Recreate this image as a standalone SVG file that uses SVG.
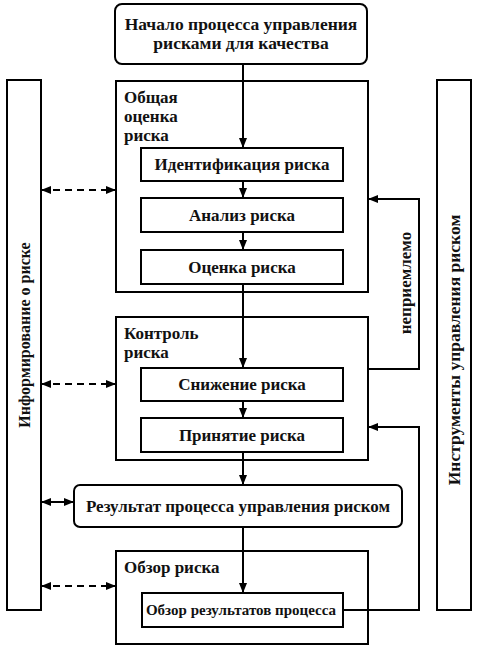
<svg xmlns="http://www.w3.org/2000/svg" width="480" height="651" viewBox="0 0 480 651">
<style>
.box{fill:#fff;stroke:#000;stroke-width:2}
.c{text-anchor:middle}
.ln{fill:none;stroke:#000;stroke-width:2}
.d{stroke-dasharray:7,5}
</style>
<defs>
<marker id="a" viewBox="0 0 10 10" refX="10" refY="5" markerWidth="10" markerHeight="10" orient="auto-start-reverse" markerUnits="userSpaceOnUse">
<path d="M0,1 L10,5 L0,9 z" fill="#000"/>
</marker>
</defs>
<rect width="480" height="651" fill="#fff"/>

<g id="info">
<rect class="box" x="7" y="80" width="34" height="530"/>
<text class="c" font-family="Liberation Serif" font-weight="bold" font-size="16" fill="#111" transform="translate(30,335) rotate(-90)">Информирование о риске</text>
</g>
<g id="tools">
<rect class="box" x="437" y="80" width="34" height="530"/>
<text class="c" font-family="Liberation Serif" font-weight="bold" font-size="17.5" fill="#111" transform="translate(460,350) rotate(-90)">Инструменты управления риском</text>
</g>

<g id="start">
<rect class="box" x="115" y="4" width="252" height="60" rx="7"/>
<text class="c" font-family="Liberation Serif" font-weight="bold" font-size="17.5" fill="#111" x="241" y="30">Начало процесса управления</text>
<text class="c" font-family="Liberation Serif" font-weight="bold" font-size="17.5" fill="#111" x="241" y="49">рисками для качества</text>
</g>

<g id="assessment">
<rect class="box" x="116" y="81" width="252" height="211"/>
<text font-family="Liberation Serif" font-weight="bold" font-size="17" fill="#111" x="124" y="103">Общая</text>
<text font-family="Liberation Serif" font-weight="bold" font-size="17" fill="#111" x="124" y="122">оценка</text>
<text font-family="Liberation Serif" font-weight="bold" font-size="17" fill="#111" x="124" y="141">риска</text>
</g>
<g id="identify">
<rect class="box" x="141" y="148" width="202" height="33"/>
<text class="c" font-family="Liberation Serif" font-weight="bold" font-size="17" fill="#111" x="242" y="170">Идентификация риска</text>
</g>
<g id="analysis">
<rect class="box" x="141" y="198" width="202" height="34"/>
<text class="c" font-family="Liberation Serif" font-weight="bold" font-size="17" fill="#111" x="242" y="221">Анализ риска</text>
</g>
<g id="evaluation">
<rect class="box" x="141" y="250" width="202" height="34"/>
<text class="c" font-family="Liberation Serif" font-weight="bold" font-size="17" fill="#111" x="242" y="273">Оценка риска</text>
</g>

<g id="control">
<rect class="box" x="116" y="317" width="252" height="143"/>
<text font-family="Liberation Serif" font-weight="bold" font-size="17" fill="#111" x="124" y="339">Контроль</text>
<text font-family="Liberation Serif" font-weight="bold" font-size="17" fill="#111" x="124" y="358">риска</text>
</g>
<g id="reduction">
<rect class="box" x="141" y="368" width="202" height="33"/>
<text class="c" font-family="Liberation Serif" font-weight="bold" font-size="17" fill="#111" x="242" y="390">Снижение риска</text>
</g>
<g id="acceptance">
<rect class="box" x="141" y="418" width="202" height="34"/>
<text class="c" font-family="Liberation Serif" font-weight="bold" font-size="17" fill="#111" x="242" y="441">Принятие риска</text>
</g>

<g id="output">
<rect class="box" x="74" y="485" width="328" height="42" rx="6"/>
<text class="c" font-family="Liberation Serif" font-weight="bold" font-size="17" fill="#111" x="238" y="512">Результат процесса управления риском</text>
</g>

<g id="review">
<rect class="box" x="116" y="551" width="252" height="93"/>
<text font-family="Liberation Serif" font-weight="bold" font-size="17" fill="#111" x="124" y="573">Обзор риска</text>
</g>
<g id="reviewresults">
<rect class="box" x="142" y="593" width="201" height="34"/>
<text class="c" font-family="Liberation Serif" font-weight="bold" font-size="15" fill="#111" x="241" y="615">Обзор результатов процесса</text>
</g>

<g id="connectors">
<line class="ln" x1="243" y1="64" x2="243" y2="148" marker-end="url(#a)"/>
<line class="ln" x1="243" y1="181" x2="243" y2="198" marker-end="url(#a)"/>
<line class="ln" x1="243" y1="232" x2="243" y2="250" marker-end="url(#a)"/>
<line class="ln" x1="243" y1="284" x2="243" y2="368" marker-end="url(#a)"/>
<line class="ln" x1="243" y1="401" x2="243" y2="418" marker-end="url(#a)"/>
<line class="ln" x1="243" y1="452" x2="243" y2="485" marker-end="url(#a)"/>
<line class="ln" x1="243" y1="527" x2="243" y2="593" marker-end="url(#a)"/>

<line class="ln d" x1="41" y1="190" x2="116" y2="190" marker-start="url(#a)" marker-end="url(#a)"/>
<line class="ln d" x1="41" y1="384" x2="116" y2="384" marker-start="url(#a)" marker-end="url(#a)"/>
<line class="ln d" x1="41" y1="586" x2="116" y2="586" marker-start="url(#a)" marker-end="url(#a)"/>
<line class="ln" x1="41" y1="502" x2="74" y2="502" marker-start="url(#a)" marker-end="url(#a)"/>

<polyline class="ln" points="368,369 419,369 419,199 368,199" marker-end="url(#a)"/>
<polyline class="ln" points="343,610 419,610 419,427 368,427" marker-end="url(#a)"/>
<text class="c" font-family="Liberation Serif" font-weight="bold" font-size="17" fill="#111" transform="translate(411,283) rotate(-90)">неприемлемо</text>
</g>
</svg>
